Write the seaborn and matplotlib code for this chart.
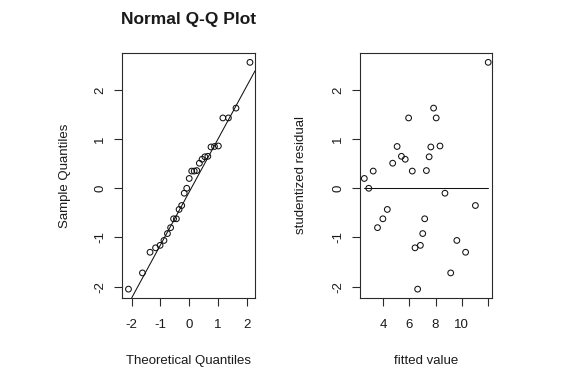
import numpy as np
import pandas as pd
import seaborn as sns
import matplotlib
matplotlib.use("Agg")
import matplotlib.pyplot as plt
from statistics import NormalDist

# fitted values and studentized residuals
fitted = [2.55, 2.89, 3.23, 3.56, 3.97, 4.31, 4.72, 5.06, 5.39, 5.68,
          5.94, 6.22, 6.43, 6.63, 6.84, 7.02, 7.17, 7.30, 7.51, 7.64,
          7.85, 8.05, 8.34, 8.72, 9.16, 9.63, 10.30, 11.05, 12.03]
resid = [0.20, 0.00, 0.35, -0.80, -0.62, -0.43, 0.51, 0.85, 0.65, 0.59,
         1.43, 0.35, -1.21, -2.05, -1.16, -0.92, -0.62, 0.36, 0.64, 0.84,
         1.63, 1.43, 0.86, -0.10, -1.72, -1.06, -1.30, -0.35, 2.56]

qq_xticks = [-2, -1, 0, 1, 2]
fit_xticks = [4, 6, 8, 10, 12]
fit_xticklabels = ["4", "6", "8", "10", ""]
yticks = [-2, -1, 0, 1, 2]

TEXT = "#1a1a1a"
LINE = "#2a2a2a"

sns.set_style("white")
plt.rcParams.update({
    "font.family": ["Liberation Sans", "DejaVu Sans"],
    "axes.unicode_minus": False,
    "axes.edgecolor": LINE,
    "axes.linewidth": 0.8,
    "text.color": TEXT,
    "axes.labelcolor": TEXT,
    "xtick.color": LINE,
    "ytick.color": LINE,
    "xtick.labelcolor": TEXT,
    "ytick.labelcolor": TEXT,
    "xtick.bottom": True,
    "ytick.left": True,
})

# normal Q-Q data
n = len(resid)
sample = np.sort(resid)
nd = NormalDist()
theo = np.array([nd.inv_cdf((i - 0.5) / n) for i in range(1, n + 1)])
qq = pd.DataFrame({"theo": theo, "sample": sample})
yq = np.quantile(sample, [0.25, 0.75])
xq = np.array([nd.inv_cdf(0.25), nd.inv_cdf(0.75)])
slope = (yq[1] - yq[0]) / (xq[1] - xq[0])

res = pd.DataFrame({"fitted": fitted, "resid": resid})

fig = plt.figure(figsize=(5.74, 3.88), dpi=100)
ax1 = fig.add_axes([122 / 574, 1 - 298 / 388, 133 / 574, 245 / 388])
ax2 = fig.add_axes([360 / 574, 1 - 298 / 388, 132 / 574, 245 / 388])

marker_kw = dict(s=17, facecolor="none", edgecolor="#111111", linewidth=0.75)

sns.scatterplot(data=qq, x="theo", y="sample", ax=ax1, **marker_kw)
ax1.axline((xq[0], yq[0]), slope=slope, color="#111111", linewidth=0.75)
ax1.set_xlim(-2.34, 2.29)
ax1.set_xticks(qq_xticks)
ax1.set_title("Normal Q-Q Plot", fontsize=12.5, fontweight="bold", pad=21)
ax1.set_xlabel("Theoretical Quantiles")
ax1.set_ylabel("Sample Quantiles")

sns.scatterplot(data=res, x="fitted", y="resid", ax=ax2, **marker_kw)
sns.lineplot(x=[min(fitted), max(fitted)], y=[0, 0], ax=ax2,
             color="#111111", linewidth=0.75)
ax2.set_xlim(2.22, 12.32)
ax2.set_xticks(fit_xticks)
ax2.set_xticklabels(fit_xticklabels)
ax2.set_xlabel("fitted value")
ax2.set_ylabel("studentized residual")

for ax, ylab_x in [(ax1, (65 - 122) / 133), (ax2, (301 - 360) / 132)]:
    ax.set_ylim(-2.23, 2.75)
    ax.set_yticks(yticks)
    ax.tick_params(axis="both", length=5.8, width=0.8, labelsize=9.5)
    ax.tick_params(axis="x", pad=9.5)
    ax.tick_params(axis="y", pad=5.5)
    for lab in ax.get_yticklabels():
        lab.set_rotation(90)
        lab.set_va("center")
    ax.xaxis.label.set_fontsize(9.5)
    ax.yaxis.label.set_fontsize(9.5)
    ax.xaxis.set_label_coords(0.5, -(361 - 298) / 245)
    ax.xaxis.label.set_va("center")
    ax.yaxis.set_label_coords(ylab_x, 0.5)
    ax.yaxis.label.set_va("center")
    for sp in ax.spines.values():
        sp.set_visible(True)

fig.savefig("out.png", dpi=100, facecolor="white")
